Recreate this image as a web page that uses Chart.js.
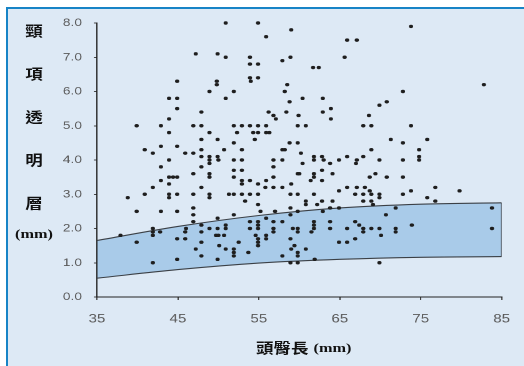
<!DOCTYPE html>
<html lang="zh-Hant">
<head>
<meta charset="UTF-8">
<title>頸項透明層與頭臀長</title>
<style>
    body {
        margin: 0;
        width: 524px;
        height: 366px;
        overflow: hidden;
        position: relative;
        background: #fff;
    }
    .frame {
        position: absolute;
        left: 6px;
        top: 7px;
        width: 600px;
        height: 400px;
        background: #dde9f5;
        border-top: 2px solid #1784c6;
        border-left: 2px solid #1784c6;
    }
    /* the original picture is stretched sideways, so the canvas is too */
    .plot {
        position: absolute;
        left: 0;
        top: 0;
        width: 420px;
        height: 366px;
        transform: scaleX(1.25);
        transform-origin: 0 0;
    }
    .ytitle {
        position: absolute;
        left: 34px;
        top: 9.4px;
        width: 14px;
        font: bold 14px "Noto Sans CJK TC", sans-serif;
        line-height: 42.8px;
        text-align: center;
        color: #111;
        transform: translateX(-50%) scaleX(1.25);
    }
    .yunit {
        position: absolute;
        left: 33.5px;
        top: 226.3px;
        font: bold 13px "Liberation Serif", serif;
        line-height: 16px;
        color: #111;
        white-space: nowrap;
        transform: translateX(-50%) scaleX(1.25);
    }
    .xtitle {
        position: absolute;
        left: 256px;
        top: 337.2px;
        font: bold 14px "Noto Sans CJK TC", sans-serif;
        line-height: 20px;
        color: #111;
        white-space: nowrap;
        transform: scaleX(1.25);
        transform-origin: 0 0;
    }
    .xtitle span {
        font: bold 13px "Liberation Serif", serif;
        margin-left: 4px;
        position: relative;
        top: -1.5px;
    }
</style>
</head>
<body>
    <div class="frame"></div>
    <div class="plot"><canvas id="ntChart" width="420" height="366"></canvas></div>
    <div class="ytitle"><div>頸</div><div>項</div><div>透</div><div>明</div><div>層</div></div>
    <div class="yunit">(mm)</div>
    <div class="xtitle">頭臀長<span>(mm)</span></div>

<script src="https://cdn.jsdelivr.net/npm/chart.js"></script>
<script>
    // each case: [crown-rump length mm, nuchal translucency mm]
    const cases = [
        [37.9,1.8],[38.8,2.9],[39.9,5.0],[39.9,2.5],[39.9,1.6],[40.9,4.3],[40.9,3.0],
        [41.9,4.2],[41.9,3.2],[41.9,2.0],[41.9,1.9],[41.9,1.8],[41.9,1.0],
        [42.9,5.0],[42.9,4.4],[42.9,3.8],[42.9,3.4],[42.9,2.5],[42.8,1.9],
        [43.9,5.8],[43.9,5.2],[43.9,4.8],[43.9,4.0],[43.9,3.5],[43.9,3.3],[43.9,3.0],[43.9,2.9],[44.4,3.5],
        [44.9,6.3],[44.9,5.8],[44.9,5.5],[44.9,4.4],[44.9,3.5],[44.9,3.0],[44.9,2.5],[44.9,1.7],[44.9,1.1],
        [45.9,4.2],[46.0,2.0],[45.9,1.9],[45.9,1.7],
        [46.9,5.0],[46.9,4.2],[46.9,3.6],[46.9,3.0],[46.9,2.6],[46.9,2.4],[46.9,2.2],
        [47.2,7.1],[47.2,1.4],
        [47.9,5.4],[47.9,5.0],[47.9,4.6],[47.9,4.3],[47.9,4.1],[47.9,3.8],[47.9,3.2],[47.9,2.1],[47.9,1.9],[47.9,1.6],[47.9,1.2],
        [48.9,6.0],[48.9,4.8],[48.9,4.1],[48.9,4.0],[48.9,3.9],[48.9,3.6],[48.9,3.5],[48.9,3.0],[48.9,2.9],[48.9,2.0],
        [49.9,7.1],[49.8,6.3],[49.8,6.2],[49.9,4.6],[49.9,4.1],[50.0,4.0],[49.9,2.3],[49.9,2.0],[49.7,1.8],[50.0,1.8],[50.1,1.5],[49.9,1.1],
        [50.9,8.0],[50.9,7.0],[50.9,5.8],[50.7,4.3],[50.9,2.1],[50.9,2.0],[50.7,1.8],[50.9,1.4],
        [51.9,6.0],[51.9,5.0],[51.9,4.5],[51.9,4.0],[51.9,3.7],[51.9,3.5],[51.3,3.0],[51.9,3.0],[51.9,2.4],[51.9,1.4],[51.9,1.3],[51.9,1.2],
        [52.3,4.8],[52.9,5.0],[52.9,4.3],[52.9,4.0],[52.9,3.7],[52.9,3.4],[52.9,3.3],[52.9,3.0],[52.5,1.6],
        [53.3,2.8],[53.9,7.0],[53.9,6.8],[53.9,6.4],[54.0,6.3],[53.9,5.0],[53.9,3.4],[53.9,3.0],[53.9,2.2],[53.9,2.0],[53.7,1.3],
        [54.9,8.0],[54.9,6.8],[54.9,6.4],[54.9,5.0],[54.3,4.8],[54.9,4.8],[54.5,4.6],[54.9,3.3],[54.9,3.0],[54.9,2.7],
        [54.9,2.2],[54.9,2.1],[54.9,2.0],[54.6,1.8],[54.9,1.7],[54.9,1.6],[54.9,1.5],
        [55.9,7.6],[55.9,5.0],[55.9,4.8],[56.3,4.8],[55.9,3.4],[55.8,3.2],[55.2,2.5],[55.9,2.3],[55.9,1.8],[55.9,1.7],
        [56.2,5.4],[56.8,5.3],[57.1,5.2],[56.8,4.0],[56.8,3.8],[56.8,3.5],[56.8,3.2],[56.8,2.2],[56.8,2.0],[56.8,1.9],
        [57.9,6.9],[57.9,4.3],[58.2,4.3],[57.9,4.0],[57.9,3.2],[57.0,2.5],[57.9,2.2],[57.9,1.2],
        [59.0,7.8],[58.9,7.0],[58.5,6.2],[58.2,6.0],[58.8,5.7],[58.4,5.4],[58.8,4.5],[59.0,3.3],[58.9,3.0],[58.9,2.6],
        [58.9,2.4],[58.9,1.7],[59.0,1.4],[58.9,1.0],
        [59.9,5.3],[59.8,5.0],[59.8,4.5],[59.8,3.6],[60.0,3.6],[59.8,3.0],[59.8,2.5],[59.2,2.0],[59.8,2.0],[59.8,1.9],
        [59.4,1.5],[59.8,1.3],[59.8,1.2],[59.8,1.0],
        [60.4,5.8],[60.8,5.0],[60.2,4.2],[60.4,3.9],[60.8,2.8],[60.8,2.7],[60.8,1.4],
        [61.7,6.7],[61.8,4.1],[61.8,4.0],[61.8,3.6],[61.8,3.5],[61.4,3.4],[61.8,3.0],[62.2,2.7],[61.8,2.2],[61.8,2.1],
        [61.8,2.0],[61.5,1.9],[61.9,1.1],
        [62.4,6.7],[62.9,5.8],[62.9,5.4],[62.8,4.1],[63.0,4.0],[62.8,3.7],[62.8,3.4],[62.8,2.8],[62.9,2.5],
        [63.9,5.5],[63.9,5.2],[63.8,3.9],[64.1,3.6],[64.1,2.8],[63.8,2.6],[63.8,2.2],[63.8,2.0],
        [64.9,4.0],[64.9,3.1],[64.9,2.6],[64.9,1.6],
        [65.9,7.5],[65.6,7.0],[65.9,4.1],[65.9,3.2],[65.9,2.0],[65.9,1.6],
        [67.1,7.5],[67.1,4.0],[67.0,3.9],[67.1,3.2],[66.9,3.0],[66.9,2.2],[67.4,2.1],[66.9,1.7],
        [67.9,5.0],[67.9,4.1],[68.1,3.2],[67.9,3.0],[67.9,2.8],[67.9,2.0],[67.9,1.9],
        [68.6,5.3],[68.9,5.0],[68.9,4.3],[68.7,3.5],[68.7,3.1],[68.9,3.0],[68.9,2.8],[69.1,2.7],[68.9,2.0],
        [69.9,5.6],[69.9,4.0],[69.4,3.6],[69.9,3.0],[69.9,2.9],[69.9,2.0],[70.1,1.8],[69.9,1.0],
        [70.8,5.7],[70.8,3.5],[70.7,2.4],
        [71.3,4.6],[71.9,2.6],[71.9,2.0],[71.9,1.9],
        [72.8,6.0],[72.8,4.5],[72.8,4.0],[72.8,3.5],[72.8,3.0],
        [73.8,7.9],[73.8,5.0],[73.8,3.1],[73.9,2.1],
        [74.8,4.3],[74.8,4.1],[74.8,4.0],
        [75.8,4.6],[75.8,2.9],[76.8,3.2],[76.8,2.8],
        [79.8,3.1],[82.8,6.2],[83.8,2.6],[83.8,2.0]
    ];

    // normal range band (lower / upper limit by CRL)
    const bandCrl = [35, 45, 55, 65, 75, 85];
    const bandUpper = [1.65, 2.06, 2.38, 2.60, 2.71, 2.75];
    const bandLower = [0.55, 0.80, 0.99, 1.10, 1.16, 1.18];

    const xTicks = [35, 45, 55, 65, 75, 85];
    const yTicks = [0, 1, 2, 3, 4, 5, 6, 7, 8];

    const toXY = (xs, ys) => xs.map((x, i) => ({x: x, y: ys[i]}));
    const last = bandCrl.length - 1;
    const edgeColor = '#3b4046';
    const tickFont = '"Liberation Sans", Arial, sans-serif';

    const edgeLine = (i) => ({
        type: 'line',
        data: [{x: bandCrl[i], y: bandLower[i]}, {x: bandCrl[i], y: bandUpper[i]}],
        borderColor: edgeColor,
        borderWidth: 1.1,
        pointRadius: 0,
        fill: false
    });

    new Chart(document.getElementById('ntChart'), {
        type: 'scatter',
        data: {
            datasets: [
                {
                    data: cases.map(p => ({x: p[0], y: p[1]})),
                    backgroundColor: '#1e1e1e',
                    borderWidth: 0,
                    pointRadius: 1.7,
                    clip: false
                },
                {
                    type: 'line',
                    data: toXY(bandCrl, bandUpper),
                    fill: '+1',
                    backgroundColor: '#a9cbe9',
                    borderColor: edgeColor,
                    borderWidth: 1.1,
                    pointRadius: 0,
                    cubicInterpolationMode: 'monotone'
                },
                {
                    type: 'line',
                    data: toXY(bandCrl, bandLower),
                    fill: false,
                    borderColor: edgeColor,
                    borderWidth: 1.1,
                    pointRadius: 0,
                    cubicInterpolationMode: 'monotone'
                },
                edgeLine(0),
                edgeLine(last)
            ]
        },
        options: {
            responsive: false,
            devicePixelRatio: 2,
            animation: false,
            events: [],
            layout: {padding: {left: 0, top: 23, right: 6, bottom: 0}},
            plugins: {
                legend: {display: false},
                tooltip: {enabled: false},
                filler: {drawTime: 'beforeDatasetsDraw'}
            },
            scales: {
                x: {
                    type: 'linear',
                    min: 35,
                    max: 85,
                    afterBuildTicks: s => { s.ticks = xTicks.map(v => ({value: v})); },
                    afterFit: s => { s.height = 69; },
                    grid: {display: true, drawOnChartArea: false, drawTicks: true, tickLength: 3, color: '#444', lineWidth: 1},
                    border: {display: true, color: '#222', width: 1},
                    ticks: {
                        padding: 12,
                        color: '#595959',
                        maxRotation: 0,
                        autoSkip: false,
                        font: {family: tickFont, size: 12}
                    }
                },
                y: {
                    type: 'linear',
                    min: 0,
                    max: 8,
                    afterBuildTicks: s => { s.ticks = yTicks.map(v => ({value: v})); },
                    afterFit: s => { s.width = 77.6; },
                    grid: {display: true, drawOnChartArea: false, drawTicks: true, tickLength: 2.5, color: '#444', lineWidth: 1},
                    border: {display: true, color: '#222', width: 1},
                    ticks: {
                        padding: 9.5,
                        color: '#595959',
                        font: {family: tickFont, size: 11},
                        callback: v => Number(v).toFixed(1)
                    }
                }
            }
        }
    });
</script>
</body>
</html>
